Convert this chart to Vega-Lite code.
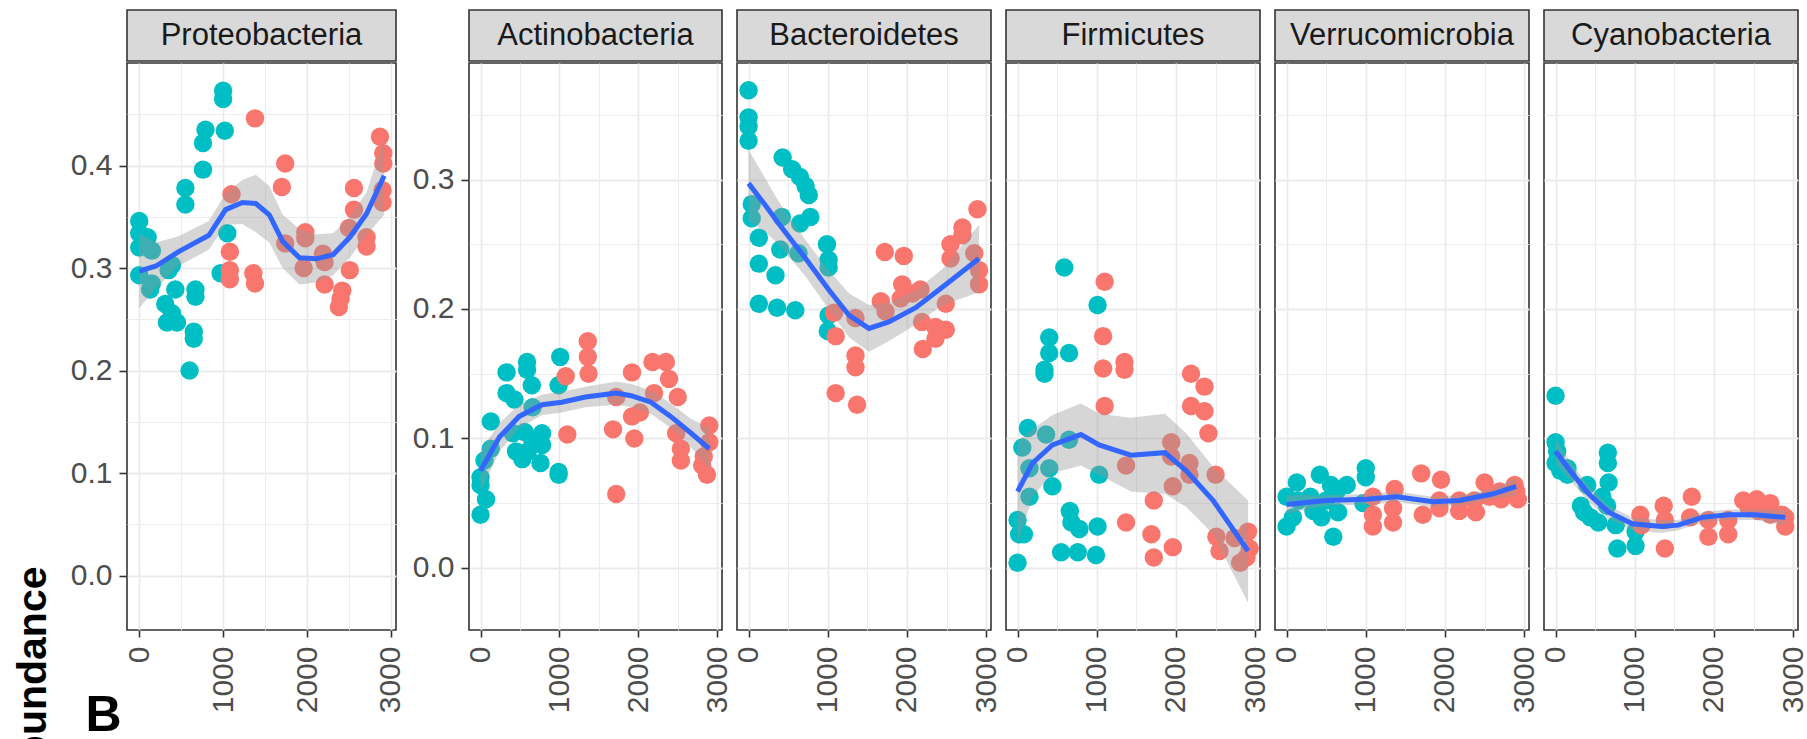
{
"$schema": "https://vega.github.io/schema/vega-lite/v6.json",
"padding": {"left": 11, "top": 9, "right": 0, "bottom": 0},
"config": {
  "font": "Liberation Sans",
  "view": {"stroke": "#333333", "strokeWidth": 1.6},
  "axis": {"domain": false, "grid": true, "gridColor": "#ebebeb", "tickColor": "#333333", "tickWidth": 1.6, "labelFont": "Liberation Sans", "labelFontSize": 30, "labelColor": "#4d4d4d", "labelPadding": 7, "titleFont": "Liberation Sans"},
  "axisX": {"tickSize": 7, "labelPadding": 9},
  "axisY": {"tickSize": 8}
},
"datasets": {
"pts": [
{"p":"Proteobacteria","x":0,"y":0.346,"g":"a"},{"p":"Proteobacteria","x":0,"y":0.334,"g":"a"},{"p":"Proteobacteria","x":0,"y":0.320,"g":"a"},{"p":"Proteobacteria","x":0,"y":0.293,"g":"a"},{"p":"Proteobacteria","x":100,"y":0.330,"g":"a"},{"p":"Proteobacteria","x":150,"y":0.317,"g":"a"},{"p":"Proteobacteria","x":130,"y":0.279,"g":"a"},{"p":"Proteobacteria","x":150,"y":0.285,"g":"a"},{"p":"Proteobacteria","x":390,"y":0.303,"g":"a"},{"p":"Proteobacteria","x":350,"y":0.298,"g":"a"},{"p":"Proteobacteria","x":430,"y":0.279,"g":"a"},{"p":"Proteobacteria","x":310,"y":0.265,"g":"a"},{"p":"Proteobacteria","x":390,"y":0.256,"g":"a"},{"p":"Proteobacteria","x":330,"y":0.247,"g":"a"},{"p":"Proteobacteria","x":450,"y":0.247,"g":"a"},{"p":"Proteobacteria","x":550,"y":0.378,"g":"a"},{"p":"Proteobacteria","x":550,"y":0.362,"g":"a"},{"p":"Proteobacteria","x":670,"y":0.279,"g":"a"},{"p":"Proteobacteria","x":670,"y":0.272,"g":"a"},{"p":"Proteobacteria","x":650,"y":0.238,"g":"a"},{"p":"Proteobacteria","x":650,"y":0.231,"g":"a"},{"p":"Proteobacteria","x":600,"y":0.200,"g":"a"},{"p":"Proteobacteria","x":760,"y":0.422,"g":"a"},{"p":"Proteobacteria","x":790,"y":0.435,"g":"a"},{"p":"Proteobacteria","x":760,"y":0.396,"g":"a"},{"p":"Proteobacteria","x":1000,"y":0.473,"g":"a"},{"p":"Proteobacteria","x":1000,"y":0.465,"g":"a"},{"p":"Proteobacteria","x":1020,"y":0.434,"g":"a"},{"p":"Proteobacteria","x":1050,"y":0.334,"g":"a"},{"p":"Proteobacteria","x":970,"y":0.295,"g":"a"},
{"p":"Proteobacteria","x":1380,"y":0.446,"g":"b"},{"p":"Proteobacteria","x":1100,"y":0.372,"g":"b"},{"p":"Proteobacteria","x":1080,"y":0.316,"g":"b"},{"p":"Proteobacteria","x":1080,"y":0.298,"g":"b"},{"p":"Proteobacteria","x":1080,"y":0.289,"g":"b"},{"p":"Proteobacteria","x":1360,"y":0.295,"g":"b"},{"p":"Proteobacteria","x":1380,"y":0.285,"g":"b"},{"p":"Proteobacteria","x":1740,"y":0.402,"g":"b"},{"p":"Proteobacteria","x":1700,"y":0.379,"g":"b"},{"p":"Proteobacteria","x":1740,"y":0.324,"g":"b"},{"p":"Proteobacteria","x":1980,"y":0.335,"g":"b"},{"p":"Proteobacteria","x":1980,"y":0.329,"g":"b"},{"p":"Proteobacteria","x":1960,"y":0.300,"g":"b"},{"p":"Proteobacteria","x":2190,"y":0.314,"g":"b"},{"p":"Proteobacteria","x":2210,"y":0.306,"g":"b"},{"p":"Proteobacteria","x":2210,"y":0.284,"g":"b"},{"p":"Proteobacteria","x":2420,"y":0.278,"g":"b"},{"p":"Proteobacteria","x":2400,"y":0.270,"g":"b"},{"p":"Proteobacteria","x":2380,"y":0.262,"g":"b"},{"p":"Proteobacteria","x":2510,"y":0.298,"g":"b"},{"p":"Proteobacteria","x":2560,"y":0.378,"g":"b"},{"p":"Proteobacteria","x":2560,"y":0.357,"g":"b"},{"p":"Proteobacteria","x":2500,"y":0.339,"g":"b"},{"p":"Proteobacteria","x":2710,"y":0.330,"g":"b"},{"p":"Proteobacteria","x":2710,"y":0.321,"g":"b"},{"p":"Proteobacteria","x":2870,"y":0.428,"g":"b"},{"p":"Proteobacteria","x":2910,"y":0.412,"g":"b"},{"p":"Proteobacteria","x":2910,"y":0.402,"g":"b"},{"p":"Proteobacteria","x":2900,"y":0.376,"g":"b"},{"p":"Proteobacteria","x":2900,"y":0.364,"g":"b"},
{"p":"Actinobacteria","x":0,"y":0.041,"g":"a"},{"p":"Actinobacteria","x":70,"y":0.053,"g":"a"},{"p":"Actinobacteria","x":0,"y":0.064,"g":"a"},{"p":"Actinobacteria","x":0,"y":0.070,"g":"a"},{"p":"Actinobacteria","x":50,"y":0.083,"g":"a"},{"p":"Actinobacteria","x":130,"y":0.092,"g":"a"},{"p":"Actinobacteria","x":130,"y":0.113,"g":"a"},{"p":"Actinobacteria","x":330,"y":0.151,"g":"a"},{"p":"Actinobacteria","x":330,"y":0.135,"g":"a"},{"p":"Actinobacteria","x":430,"y":0.130,"g":"a"},{"p":"Actinobacteria","x":410,"y":0.104,"g":"a"},{"p":"Actinobacteria","x":450,"y":0.090,"g":"a"},{"p":"Actinobacteria","x":530,"y":0.084,"g":"a"},{"p":"Actinobacteria","x":590,"y":0.159,"g":"a"},{"p":"Actinobacteria","x":590,"y":0.153,"g":"a"},{"p":"Actinobacteria","x":650,"y":0.141,"g":"a"},{"p":"Actinobacteria","x":660,"y":0.124,"g":"a"},{"p":"Actinobacteria","x":660,"y":0.097,"g":"a"},{"p":"Actinobacteria","x":780,"y":0.104,"g":"a"},{"p":"Actinobacteria","x":780,"y":0.095,"g":"a"},{"p":"Actinobacteria","x":760,"y":0.081,"g":"a"},{"p":"Actinobacteria","x":990,"y":0.074,"g":"a"},{"p":"Actinobacteria","x":990,"y":0.072,"g":"a"},{"p":"Actinobacteria","x":1010,"y":0.163,"g":"a"},{"p":"Actinobacteria","x":990,"y":0.141,"g":"a"},{"p":"Actinobacteria","x":600,"y":0.090,"g":"a"},{"p":"Actinobacteria","x":560,"y":0.105,"g":"a"},
{"p":"Actinobacteria","x":1080,"y":0.148,"g":"b"},{"p":"Actinobacteria","x":1100,"y":0.103,"g":"b"},{"p":"Actinobacteria","x":1360,"y":0.175,"g":"b"},{"p":"Actinobacteria","x":1360,"y":0.163,"g":"b"},{"p":"Actinobacteria","x":1370,"y":0.150,"g":"b"},{"p":"Actinobacteria","x":1720,"y":0.132,"g":"b"},{"p":"Actinobacteria","x":1680,"y":0.107,"g":"b"},{"p":"Actinobacteria","x":1720,"y":0.057,"g":"b"},{"p":"Actinobacteria","x":1920,"y":0.151,"g":"b"},{"p":"Actinobacteria","x":1920,"y":0.117,"g":"b"},{"p":"Actinobacteria","x":1950,"y":0.100,"g":"b"},{"p":"Actinobacteria","x":2180,"y":0.159,"g":"b"},{"p":"Actinobacteria","x":2200,"y":0.135,"g":"b"},{"p":"Actinobacteria","x":2350,"y":0.159,"g":"b"},{"p":"Actinobacteria","x":2390,"y":0.146,"g":"b"},{"p":"Actinobacteria","x":2500,"y":0.132,"g":"b"},{"p":"Actinobacteria","x":2480,"y":0.104,"g":"b"},{"p":"Actinobacteria","x":2540,"y":0.092,"g":"b"},{"p":"Actinobacteria","x":2540,"y":0.083,"g":"b"},{"p":"Actinobacteria","x":2900,"y":0.110,"g":"b"},{"p":"Actinobacteria","x":2900,"y":0.097,"g":"b"},{"p":"Actinobacteria","x":2830,"y":0.086,"g":"b"},{"p":"Actinobacteria","x":2870,"y":0.072,"g":"b"},{"p":"Actinobacteria","x":2810,"y":0.079,"g":"b"},{"p":"Actinobacteria","x":2020,"y":0.120,"g":"b"},
{"p":"Bacteroidetes","x":0,"y":0.369,"g":"a"},{"p":"Bacteroidetes","x":0,"y":0.348,"g":"a"},{"p":"Bacteroidetes","x":0,"y":0.341,"g":"a"},{"p":"Bacteroidetes","x":0,"y":0.330,"g":"a"},{"p":"Bacteroidetes","x":40,"y":0.281,"g":"a"},{"p":"Bacteroidetes","x":40,"y":0.270,"g":"a"},{"p":"Bacteroidetes","x":130,"y":0.255,"g":"a"},{"p":"Bacteroidetes","x":130,"y":0.235,"g":"a"},{"p":"Bacteroidetes","x":130,"y":0.204,"g":"a"},{"p":"Bacteroidetes","x":340,"y":0.226,"g":"a"},{"p":"Bacteroidetes","x":400,"y":0.246,"g":"a"},{"p":"Bacteroidetes","x":420,"y":0.271,"g":"a"},{"p":"Bacteroidetes","x":360,"y":0.201,"g":"a"},{"p":"Bacteroidetes","x":430,"y":0.317,"g":"a"},{"p":"Bacteroidetes","x":550,"y":0.308,"g":"a"},{"p":"Bacteroidetes","x":650,"y":0.302,"g":"a"},{"p":"Bacteroidetes","x":720,"y":0.295,"g":"a"},{"p":"Bacteroidetes","x":760,"y":0.288,"g":"a"},{"p":"Bacteroidetes","x":780,"y":0.271,"g":"a"},{"p":"Bacteroidetes","x":650,"y":0.266,"g":"a"},{"p":"Bacteroidetes","x":630,"y":0.243,"g":"a"},{"p":"Bacteroidetes","x":590,"y":0.199,"g":"a"},{"p":"Bacteroidetes","x":990,"y":0.250,"g":"a"},{"p":"Bacteroidetes","x":1010,"y":0.238,"g":"a"},{"p":"Bacteroidetes","x":1010,"y":0.232,"g":"a"},{"p":"Bacteroidetes","x":1010,"y":0.195,"g":"a"},{"p":"Bacteroidetes","x":1000,"y":0.183,"g":"a"},
{"p":"Bacteroidetes","x":1080,"y":0.197,"g":"b"},{"p":"Bacteroidetes","x":1100,"y":0.179,"g":"b"},{"p":"Bacteroidetes","x":1100,"y":0.135,"g":"b"},{"p":"Bacteroidetes","x":1350,"y":0.193,"g":"b"},{"p":"Bacteroidetes","x":1350,"y":0.164,"g":"b"},{"p":"Bacteroidetes","x":1350,"y":0.155,"g":"b"},{"p":"Bacteroidetes","x":1370,"y":0.126,"g":"b"},{"p":"Bacteroidetes","x":1670,"y":0.206,"g":"b"},{"p":"Bacteroidetes","x":1720,"y":0.244,"g":"b"},{"p":"Bacteroidetes","x":1960,"y":0.241,"g":"b"},{"p":"Bacteroidetes","x":1940,"y":0.219,"g":"b"},{"p":"Bacteroidetes","x":1920,"y":0.208,"g":"b"},{"p":"Bacteroidetes","x":1730,"y":0.198,"g":"b"},{"p":"Bacteroidetes","x":2070,"y":0.212,"g":"b"},{"p":"Bacteroidetes","x":2170,"y":0.215,"g":"b"},{"p":"Bacteroidetes","x":2190,"y":0.190,"g":"b"},{"p":"Bacteroidetes","x":2200,"y":0.169,"g":"b"},{"p":"Bacteroidetes","x":2360,"y":0.186,"g":"b"},{"p":"Bacteroidetes","x":2360,"y":0.177,"g":"b"},{"p":"Bacteroidetes","x":2490,"y":0.204,"g":"b"},{"p":"Bacteroidetes","x":2490,"y":0.184,"g":"b"},{"p":"Bacteroidetes","x":2550,"y":0.250,"g":"b"},{"p":"Bacteroidetes","x":2550,"y":0.239,"g":"b"},{"p":"Bacteroidetes","x":2700,"y":0.263,"g":"b"},{"p":"Bacteroidetes","x":2700,"y":0.257,"g":"b"},{"p":"Bacteroidetes","x":2890,"y":0.277,"g":"b"},{"p":"Bacteroidetes","x":2850,"y":0.243,"g":"b"},{"p":"Bacteroidetes","x":2910,"y":0.230,"g":"b"},{"p":"Bacteroidetes","x":2910,"y":0.219,"g":"b"},
{"p":"Firmicutes","x":0,"y":0.004,"g":"a"},{"p":"Firmicutes","x":0,"y":0.037,"g":"a"},{"p":"Firmicutes","x":20,"y":0.026,"g":"a"},{"p":"Firmicutes","x":80,"y":0.026,"g":"a"},{"p":"Firmicutes","x":60,"y":0.093,"g":"a"},{"p":"Firmicutes","x":130,"y":0.108,"g":"a"},{"p":"Firmicutes","x":150,"y":0.077,"g":"a"},{"p":"Firmicutes","x":150,"y":0.055,"g":"a"},{"p":"Firmicutes","x":360,"y":0.103,"g":"a"},{"p":"Firmicutes","x":400,"y":0.077,"g":"a"},{"p":"Firmicutes","x":440,"y":0.063,"g":"a"},{"p":"Firmicutes","x":400,"y":0.178,"g":"a"},{"p":"Firmicutes","x":400,"y":0.166,"g":"a"},{"p":"Firmicutes","x":340,"y":0.153,"g":"a"},{"p":"Firmicutes","x":340,"y":0.150,"g":"a"},{"p":"Firmicutes","x":590,"y":0.232,"g":"a"},{"p":"Firmicutes","x":650,"y":0.166,"g":"a"},{"p":"Firmicutes","x":650,"y":0.099,"g":"a"},{"p":"Firmicutes","x":550,"y":0.012,"g":"a"},{"p":"Firmicutes","x":660,"y":0.044,"g":"a"},{"p":"Firmicutes","x":680,"y":0.035,"g":"a"},{"p":"Firmicutes","x":760,"y":0.012,"g":"a"},{"p":"Firmicutes","x":780,"y":0.030,"g":"a"},{"p":"Firmicutes","x":1010,"y":0.203,"g":"a"},{"p":"Firmicutes","x":1030,"y":0.072,"g":"a"},{"p":"Firmicutes","x":1010,"y":0.032,"g":"a"},{"p":"Firmicutes","x":990,"y":0.010,"g":"a"},
{"p":"Firmicutes","x":1100,"y":0.221,"g":"b"},{"p":"Firmicutes","x":1080,"y":0.179,"g":"b"},{"p":"Firmicutes","x":1080,"y":0.154,"g":"b"},{"p":"Firmicutes","x":1100,"y":0.125,"g":"b"},{"p":"Firmicutes","x":1350,"y":0.159,"g":"b"},{"p":"Firmicutes","x":1350,"y":0.153,"g":"b"},{"p":"Firmicutes","x":1370,"y":0.079,"g":"b"},{"p":"Firmicutes","x":1370,"y":0.035,"g":"b"},{"p":"Firmicutes","x":1720,"y":0.052,"g":"b"},{"p":"Firmicutes","x":1690,"y":0.026,"g":"b"},{"p":"Firmicutes","x":1720,"y":0.008,"g":"b"},{"p":"Firmicutes","x":1960,"y":0.016,"g":"b"},{"p":"Firmicutes","x":1940,"y":0.097,"g":"b"},{"p":"Firmicutes","x":1940,"y":0.086,"g":"b"},{"p":"Firmicutes","x":1960,"y":0.063,"g":"b"},{"p":"Firmicutes","x":2190,"y":0.150,"g":"b"},{"p":"Firmicutes","x":2190,"y":0.125,"g":"b"},{"p":"Firmicutes","x":2170,"y":0.081,"g":"b"},{"p":"Firmicutes","x":2170,"y":0.072,"g":"b"},{"p":"Firmicutes","x":2360,"y":0.140,"g":"b"},{"p":"Firmicutes","x":2360,"y":0.121,"g":"b"},{"p":"Firmicutes","x":2410,"y":0.104,"g":"b"},{"p":"Firmicutes","x":2500,"y":0.072,"g":"b"},{"p":"Firmicutes","x":2510,"y":0.024,"g":"b"},{"p":"Firmicutes","x":2550,"y":0.013,"g":"b"},{"p":"Firmicutes","x":2740,"y":0.023,"g":"b"},{"p":"Firmicutes","x":2910,"y":0.028,"g":"b"},{"p":"Firmicutes","x":2890,"y":0.008,"g":"b"},{"p":"Firmicutes","x":2810,"y":0.004,"g":"b"},{"p":"Firmicutes","x":2930,"y":0.015,"g":"b"},
{"p":"Verrucomicrobia","x":0,"y":0.032,"g":"a"},{"p":"Verrucomicrobia","x":0,"y":0.055,"g":"a"},{"p":"Verrucomicrobia","x":80,"y":0.039,"g":"a"},{"p":"Verrucomicrobia","x":130,"y":0.066,"g":"a"},{"p":"Verrucomicrobia","x":150,"y":0.052,"g":"a"},{"p":"Verrucomicrobia","x":340,"y":0.044,"g":"a"},{"p":"Verrucomicrobia","x":420,"y":0.072,"g":"a"},{"p":"Verrucomicrobia","x":440,"y":0.039,"g":"a"},{"p":"Verrucomicrobia","x":500,"y":0.052,"g":"a"},{"p":"Verrucomicrobia","x":590,"y":0.024,"g":"a"},{"p":"Verrucomicrobia","x":630,"y":0.059,"g":"a"},{"p":"Verrucomicrobia","x":650,"y":0.043,"g":"a"},{"p":"Verrucomicrobia","x":760,"y":0.064,"g":"a"},{"p":"Verrucomicrobia","x":1000,"y":0.077,"g":"a"},{"p":"Verrucomicrobia","x":1000,"y":0.070,"g":"a"},{"p":"Verrucomicrobia","x":970,"y":0.050,"g":"a"},{"p":"Verrucomicrobia","x":300,"y":0.055,"g":"a"},{"p":"Verrucomicrobia","x":560,"y":0.064,"g":"a"},
{"p":"Verrucomicrobia","x":1090,"y":0.055,"g":"b"},{"p":"Verrucomicrobia","x":1090,"y":0.041,"g":"b"},{"p":"Verrucomicrobia","x":1090,"y":0.032,"g":"b"},{"p":"Verrucomicrobia","x":1365,"y":0.061,"g":"b"},{"p":"Verrucomicrobia","x":1345,"y":0.046,"g":"b"},{"p":"Verrucomicrobia","x":1345,"y":0.035,"g":"b"},{"p":"Verrucomicrobia","x":1700,"y":0.073,"g":"b"},{"p":"Verrucomicrobia","x":1720,"y":0.041,"g":"b"},{"p":"Verrucomicrobia","x":1950,"y":0.068,"g":"b"},{"p":"Verrucomicrobia","x":1930,"y":0.052,"g":"b"},{"p":"Verrucomicrobia","x":1930,"y":0.046,"g":"b"},{"p":"Verrucomicrobia","x":2180,"y":0.052,"g":"b"},{"p":"Verrucomicrobia","x":2180,"y":0.044,"g":"b"},{"p":"Verrucomicrobia","x":2370,"y":0.052,"g":"b"},{"p":"Verrucomicrobia","x":2390,"y":0.043,"g":"b"},{"p":"Verrucomicrobia","x":2500,"y":0.066,"g":"b"},{"p":"Verrucomicrobia","x":2560,"y":0.055,"g":"b"},{"p":"Verrucomicrobia","x":2690,"y":0.059,"g":"b"},{"p":"Verrucomicrobia","x":2710,"y":0.053,"g":"b"},{"p":"Verrucomicrobia","x":2880,"y":0.064,"g":"b"},{"p":"Verrucomicrobia","x":2900,"y":0.059,"g":"b"},{"p":"Verrucomicrobia","x":2920,"y":0.053,"g":"b"},
{"p":"Cyanobacteria","x":0,"y":0.133,"g":"a"},{"p":"Cyanobacteria","x":0,"y":0.097,"g":"a"},{"p":"Cyanobacteria","x":0,"y":0.081,"g":"a"},{"p":"Cyanobacteria","x":20,"y":0.090,"g":"a"},{"p":"Cyanobacteria","x":60,"y":0.075,"g":"a"},{"p":"Cyanobacteria","x":150,"y":0.072,"g":"a"},{"p":"Cyanobacteria","x":150,"y":0.077,"g":"a"},{"p":"Cyanobacteria","x":400,"y":0.064,"g":"a"},{"p":"Cyanobacteria","x":320,"y":0.048,"g":"a"},{"p":"Cyanobacteria","x":360,"y":0.043,"g":"a"},{"p":"Cyanobacteria","x":440,"y":0.039,"g":"a"},{"p":"Cyanobacteria","x":540,"y":0.035,"g":"a"},{"p":"Cyanobacteria","x":650,"y":0.048,"g":"a"},{"p":"Cyanobacteria","x":670,"y":0.066,"g":"a"},{"p":"Cyanobacteria","x":660,"y":0.081,"g":"a"},{"p":"Cyanobacteria","x":660,"y":0.089,"g":"a"},{"p":"Cyanobacteria","x":760,"y":0.033,"g":"a"},{"p":"Cyanobacteria","x":780,"y":0.015,"g":"a"},{"p":"Cyanobacteria","x":1010,"y":0.017,"g":"a"},{"p":"Cyanobacteria","x":1010,"y":0.028,"g":"a"},{"p":"Cyanobacteria","x":590,"y":0.055,"g":"a"},
{"p":"Cyanobacteria","x":1070,"y":0.041,"g":"b"},{"p":"Cyanobacteria","x":1085,"y":0.033,"g":"b"},{"p":"Cyanobacteria","x":1365,"y":0.048,"g":"b"},{"p":"Cyanobacteria","x":1380,"y":0.037,"g":"b"},{"p":"Cyanobacteria","x":1380,"y":0.015,"g":"b"},{"p":"Cyanobacteria","x":1720,"y":0.055,"g":"b"},{"p":"Cyanobacteria","x":1700,"y":0.039,"g":"b"},{"p":"Cyanobacteria","x":1930,"y":0.037,"g":"b"},{"p":"Cyanobacteria","x":1930,"y":0.024,"g":"b"},{"p":"Cyanobacteria","x":2180,"y":0.037,"g":"b"},{"p":"Cyanobacteria","x":2180,"y":0.026,"g":"b"},{"p":"Cyanobacteria","x":2370,"y":0.052,"g":"b"},{"p":"Cyanobacteria","x":2440,"y":0.046,"g":"b"},{"p":"Cyanobacteria","x":2540,"y":0.053,"g":"b"},{"p":"Cyanobacteria","x":2560,"y":0.044,"g":"b"},{"p":"Cyanobacteria","x":2710,"y":0.050,"g":"b"},{"p":"Cyanobacteria","x":2710,"y":0.041,"g":"b"},{"p":"Cyanobacteria","x":2900,"y":0.039,"g":"b"},{"p":"Cyanobacteria","x":2900,"y":0.032,"g":"b"},{"p":"Cyanobacteria","x":2860,"y":0.041,"g":"b"}
],
"fit": [
{"p":"Proteobacteria","x":0,"fit":0.297,"lo":0.261,"hi":0.334},{"p":"Proteobacteria","x":200,"fit":0.302,"lo":0.280,"hi":0.325},{"p":"Proteobacteria","x":470,"fit":0.316,"lo":0.302,"hi":0.331},{"p":"Proteobacteria","x":830,"fit":0.332,"lo":0.318,"hi":0.346},{"p":"Proteobacteria","x":1030,"fit":0.357,"lo":0.342,"hi":0.373},{"p":"Proteobacteria","x":1230,"fit":0.364,"lo":0.343,"hi":0.386},{"p":"Proteobacteria","x":1390,"fit":0.363,"lo":0.335,"hi":0.391},{"p":"Proteobacteria","x":1550,"fit":0.352,"lo":0.325,"hi":0.380},{"p":"Proteobacteria","x":1710,"fit":0.326,"lo":0.300,"hi":0.352},{"p":"Proteobacteria","x":1910,"fit":0.310,"lo":0.284,"hi":0.338},{"p":"Proteobacteria","x":2110,"fit":0.309,"lo":0.286,"hi":0.333},{"p":"Proteobacteria","x":2310,"fit":0.313,"lo":0.293,"hi":0.334},{"p":"Proteobacteria","x":2510,"fit":0.330,"lo":0.310,"hi":0.350},{"p":"Proteobacteria","x":2710,"fit":0.353,"lo":0.332,"hi":0.374},{"p":"Proteobacteria","x":2920,"fit":0.390,"lo":0.352,"hi":0.427},
{"p":"Actinobacteria","x":0,"fit":0.075,"lo":0.059,"hi":0.090},{"p":"Actinobacteria","x":240,"fit":0.101,"lo":0.090,"hi":0.112},{"p":"Actinobacteria","x":490,"fit":0.117,"lo":0.108,"hi":0.126},{"p":"Actinobacteria","x":780,"fit":0.126,"lo":0.118,"hi":0.134},{"p":"Actinobacteria","x":1030,"fit":0.128,"lo":0.120,"hi":0.136},{"p":"Actinobacteria","x":1330,"fit":0.132,"lo":0.124,"hi":0.140},{"p":"Actinobacteria","x":1720,"fit":0.135,"lo":0.126,"hi":0.144},{"p":"Actinobacteria","x":1910,"fit":0.133,"lo":0.124,"hi":0.142},{"p":"Actinobacteria","x":2160,"fit":0.128,"lo":0.119,"hi":0.137},{"p":"Actinobacteria","x":2410,"fit":0.117,"lo":0.108,"hi":0.127},{"p":"Actinobacteria","x":2670,"fit":0.104,"lo":0.093,"hi":0.115},{"p":"Actinobacteria","x":2900,"fit":0.092,"lo":0.076,"hi":0.108},
{"p":"Bacteroidetes","x":0,"fit":0.297,"lo":0.268,"hi":0.323},{"p":"Bacteroidetes","x":200,"fit":0.281,"lo":0.260,"hi":0.302},{"p":"Bacteroidetes","x":380,"fit":0.266,"lo":0.250,"hi":0.283},{"p":"Bacteroidetes","x":720,"fit":0.239,"lo":0.225,"hi":0.253},{"p":"Bacteroidetes","x":1010,"fit":0.215,"lo":0.200,"hi":0.230},{"p":"Bacteroidetes","x":1270,"fit":0.195,"lo":0.178,"hi":0.212},{"p":"Bacteroidetes","x":1520,"fit":0.185,"lo":0.167,"hi":0.203},{"p":"Bacteroidetes","x":1770,"fit":0.190,"lo":0.175,"hi":0.205},{"p":"Bacteroidetes","x":2110,"fit":0.201,"lo":0.188,"hi":0.214},{"p":"Bacteroidetes","x":2450,"fit":0.217,"lo":0.203,"hi":0.231},{"p":"Bacteroidetes","x":2910,"fit":0.239,"lo":0.213,"hi":0.265},
{"p":"Firmicutes","x":0,"fit":0.059,"lo":0.018,"hi":0.098},{"p":"Firmicutes","x":190,"fit":0.081,"lo":0.055,"hi":0.107},{"p":"Firmicutes","x":440,"fit":0.095,"lo":0.073,"hi":0.118},{"p":"Firmicutes","x":800,"fit":0.103,"lo":0.079,"hi":0.127},{"p":"Firmicutes","x":1030,"fit":0.095,"lo":0.072,"hi":0.119},{"p":"Firmicutes","x":1430,"fit":0.087,"lo":0.059,"hi":0.116},{"p":"Firmicutes","x":1860,"fit":0.089,"lo":0.057,"hi":0.119},{"p":"Firmicutes","x":2130,"fit":0.075,"lo":0.047,"hi":0.104},{"p":"Firmicutes","x":2470,"fit":0.052,"lo":0.026,"hi":0.078},{"p":"Firmicutes","x":2910,"fit":0.013,"lo":-0.027,"hi":0.052},
{"p":"Verrucomicrobia","x":0,"fit":0.049,"lo":0.042,"hi":0.056},{"p":"Verrucomicrobia","x":500,"fit":0.052,"lo":0.048,"hi":0.056},{"p":"Verrucomicrobia","x":1010,"fit":0.053,"lo":0.049,"hi":0.057},{"p":"Verrucomicrobia","x":1390,"fit":0.055,"lo":0.051,"hi":0.059},{"p":"Verrucomicrobia","x":1850,"fit":0.051,"lo":0.047,"hi":0.055},{"p":"Verrucomicrobia","x":2180,"fit":0.052,"lo":0.048,"hi":0.056},{"p":"Verrucomicrobia","x":2600,"fit":0.057,"lo":0.053,"hi":0.061},{"p":"Verrucomicrobia","x":2900,"fit":0.063,"lo":0.056,"hi":0.070},
{"p":"Cyanobacteria","x":0,"fit":0.090,"lo":0.080,"hi":0.100},{"p":"Cyanobacteria","x":210,"fit":0.073,"lo":0.066,"hi":0.080},{"p":"Cyanobacteria","x":420,"fit":0.057,"lo":0.051,"hi":0.063},{"p":"Cyanobacteria","x":670,"fit":0.043,"lo":0.038,"hi":0.048},{"p":"Cyanobacteria","x":970,"fit":0.034,"lo":0.029,"hi":0.039},{"p":"Cyanobacteria","x":1340,"fit":0.032,"lo":0.027,"hi":0.037},{"p":"Cyanobacteria","x":1550,"fit":0.033,"lo":0.029,"hi":0.037},{"p":"Cyanobacteria","x":1850,"fit":0.039,"lo":0.035,"hi":0.043},{"p":"Cyanobacteria","x":2180,"fit":0.041,"lo":0.037,"hi":0.045},{"p":"Cyanobacteria","x":2520,"fit":0.041,"lo":0.037,"hi":0.045},{"p":"Cyanobacteria","x":2900,"fit":0.039,"lo":0.033,"hi":0.045}
]
},
"spacing": 4,
"hconcat": [
{"spacing": 0, "vconcat": [
  {"width": 269, "height": 51, "view": {"fill": "#d9d9d9", "stroke": "#333333", "strokeWidth": 1.6}, "data": {"values": [{"p": "Proteobacteria"}]}, "mark": {"type": "text", "fontSize": 31, "color": "#1a1a1a", "baseline": "middle"}, "encoding": {"text": {"field": "p"}}},
  {"width": 269, "height": 567, "layer": [
    {"data": {"name": "pts"}, "transform": [{"filter": "datum.p === 'Proteobacteria'"}], "mark": {"type": "circle", "size": 340, "opacity": 1},
     "encoding": {
       "x": {"field": "x", "type": "quantitative", "scale": {"domain": [-146, 3061], "nice": false, "zero": false},
             "axis": {"values": [0,500,1000,1500,2000,2500,3000], "format": "d", "labelAngle": 270, "labelExpr": "datum.value % 1000 === 0 ? datum.label : ''", "tickOpacity": {"condition": {"test": "datum.value % 1000 !== 0", "value": 0}, "value": 1}, "gridWidth": {"condition": {"test": "datum.value % 1000 !== 0", "value": 0.9}, "value": 1.8},
                      "title": "B", "titleFontSize": 50, "titleFontWeight": "bold", "titleColor": "#000000", "titleAngle": 0, "titleAlign": "left", "titleBaseline": "bottom", "titleX": -42, "titleY": 110}},
       "y": {"field": "y", "type": "quantitative", "scale": {"domain": [-0.053, 0.5], "nice": false, "zero": false},
             "axis": {"values": [0,0.05,0.1,0.15,0.2,0.25,0.3,0.35,0.4,0.45], "format": ".1f", "labelExpr": "round(datum.value*100) % 10 === 0 ? datum.label : ''", "tickOpacity": {"condition": {"test": "round(datum.value*100) % 10 !== 0", "value": 0}, "value": 1}, "gridWidth": {"condition": {"test": "round(datum.value*100) % 10 !== 0", "value": 0.9}, "value": 1.8},
                      "title": "Abundance", "titleFontSize": 41, "titleFontWeight": "bold", "titleColor": "#000000", "titleAngle": 270, "titleAlign": "right", "titleBaseline": "alphabetic", "titleX": -81.8, "titleY": 503}},
       "color": {"field": "g", "type": "nominal", "scale": {"domain": ["a","b"], "range": ["#00BFC4","#F8766D"]}, "legend": null}
     }},
    {"data": {"name": "fit"}, "transform": [{"filter": "datum.p === 'Proteobacteria'"}], "mark": {"type": "area", "color": "#999999", "opacity": 0.4},
     "encoding": {"x": {"field": "x", "type": "quantitative"}, "y": {"field": "lo", "type": "quantitative"}, "y2": {"field": "hi"}}},
    {"data": {"name": "fit"}, "transform": [{"filter": "datum.p === 'Proteobacteria'"}], "mark": {"type": "line", "color": "#3366FF", "strokeWidth": 5},
     "encoding": {"x": {"field": "x", "type": "quantitative"}, "y": {"field": "fit", "type": "quantitative"}}}
  ]}
]},
{"spacing": -1, "hconcat": [
 {"spacing": 0, "vconcat": [
  {"width": 253, "height": 51, "view": {"fill": "#d9d9d9", "stroke": "#333333", "strokeWidth": 1.6}, "data": {"values": [{"p": "Actinobacteria"}]}, "mark": {"type": "text", "fontSize": 31, "color": "#1a1a1a", "baseline": "middle"}, "encoding": {"text": {"field": "p"}}},
  {"width": 253, "height": 567, "layer": [
    {"data": {"name": "pts"}, "transform": [{"filter": "datum.p === 'Actinobacteria'"}], "mark": {"type": "circle", "size": 340, "opacity": 1},
     "encoding": {
       "x": {"field": "x", "type": "quantitative", "scale": {"domain": [-146, 3061], "nice": false, "zero": false},
             "axis": {"values": [0,500,1000,1500,2000,2500,3000], "format": "d", "labelAngle": 270, "labelExpr": "datum.value % 1000 === 0 ? datum.label : ''", "tickOpacity": {"condition": {"test": "datum.value % 1000 !== 0", "value": 0}, "value": 1}, "gridWidth": {"condition": {"test": "datum.value % 1000 !== 0", "value": 0.9}, "value": 1.8}, "title": ""}},
       "y": {"field": "y", "type": "quantitative", "scale": {"domain": [-0.048, 0.39], "nice": false, "zero": false},
             "axis": {"values": [0,0.05,0.1,0.15,0.2,0.25,0.3,0.35], "format": ".1f", "labelExpr": "round(datum.value*100) % 10 === 0 ? datum.label : ''", "tickOpacity": {"condition": {"test": "round(datum.value*100) % 10 !== 0", "value": 0}, "value": 1}, "gridWidth": {"condition": {"test": "round(datum.value*100) % 10 !== 0", "value": 0.9}, "value": 1.8}, "title": ""}},
       "color": {"field": "g", "type": "nominal", "scale": {"domain": ["a","b"], "range": ["#00BFC4","#F8766D"]}, "legend": null}
     }},
    {"data": {"name": "fit"}, "transform": [{"filter": "datum.p === 'Actinobacteria'"}], "mark": {"type": "area", "color": "#999999", "opacity": 0.4},
     "encoding": {"x": {"field": "x", "type": "quantitative"}, "y": {"field": "lo", "type": "quantitative"}, "y2": {"field": "hi"}}},
    {"data": {"name": "fit"}, "transform": [{"filter": "datum.p === 'Actinobacteria'"}], "mark": {"type": "line", "color": "#3366FF", "strokeWidth": 5},
     "encoding": {"x": {"field": "x", "type": "quantitative"}, "y": {"field": "fit", "type": "quantitative"}}}
  ]}
 ]},
 {"spacing": 0, "vconcat": [
  {"width": 254, "height": 51, "view": {"fill": "#d9d9d9", "stroke": "#333333", "strokeWidth": 1.6}, "data": {"values": [{"p": "Bacteroidetes"}]}, "mark": {"type": "text", "fontSize": 31, "color": "#1a1a1a", "baseline": "middle"}, "encoding": {"text": {"field": "p"}}},
  {"width": 254, "height": 567, "layer": [
    {"data": {"name": "pts"}, "transform": [{"filter": "datum.p === 'Bacteroidetes'"}], "mark": {"type": "circle", "size": 340, "opacity": 1},
     "encoding": {
       "x": {"field": "x", "type": "quantitative", "scale": {"domain": [-146, 3061], "nice": false, "zero": false},
             "axis": {"values": [0,500,1000,1500,2000,2500,3000], "format": "d", "labelAngle": 270, "labelExpr": "datum.value % 1000 === 0 ? datum.label : ''", "tickOpacity": {"condition": {"test": "datum.value % 1000 !== 0", "value": 0}, "value": 1}, "gridWidth": {"condition": {"test": "datum.value % 1000 !== 0", "value": 0.9}, "value": 1.8}, "title": ""}},
       "y": {"field": "y", "type": "quantitative", "scale": {"domain": [-0.048, 0.39], "nice": false, "zero": false},
             "axis": {"values": [0,0.05,0.1,0.15,0.2,0.25,0.3,0.35], "labels": false, "ticks": false, "gridWidth": {"condition": {"test": "round(datum.value*100) % 10 !== 0", "value": 0.9}, "value": 1.8}, "title": ""}},
       "color": {"field": "g", "type": "nominal", "scale": {"domain": ["a","b"], "range": ["#00BFC4","#F8766D"]}, "legend": null}
     }},
    {"data": {"name": "fit"}, "transform": [{"filter": "datum.p === 'Bacteroidetes'"}], "mark": {"type": "area", "color": "#999999", "opacity": 0.4},
     "encoding": {"x": {"field": "x", "type": "quantitative"}, "y": {"field": "lo", "type": "quantitative"}, "y2": {"field": "hi"}}},
    {"data": {"name": "fit"}, "transform": [{"filter": "datum.p === 'Bacteroidetes'"}], "mark": {"type": "line", "color": "#3366FF", "strokeWidth": 5},
     "encoding": {"x": {"field": "x", "type": "quantitative"}, "y": {"field": "fit", "type": "quantitative"}}}
  ]}
 ]},
 {"spacing": 0, "vconcat": [
  {"width": 254, "height": 51, "view": {"fill": "#d9d9d9", "stroke": "#333333", "strokeWidth": 1.6}, "data": {"values": [{"p": "Firmicutes"}]}, "mark": {"type": "text", "fontSize": 31, "color": "#1a1a1a", "baseline": "middle"}, "encoding": {"text": {"field": "p"}}},
  {"width": 254, "height": 567, "layer": [
    {"data": {"name": "pts"}, "transform": [{"filter": "datum.p === 'Firmicutes'"}], "mark": {"type": "circle", "size": 340, "opacity": 1},
     "encoding": {
       "x": {"field": "x", "type": "quantitative", "scale": {"domain": [-146, 3061], "nice": false, "zero": false},
             "axis": {"values": [0,500,1000,1500,2000,2500,3000], "format": "d", "labelAngle": 270, "labelExpr": "datum.value % 1000 === 0 ? datum.label : ''", "tickOpacity": {"condition": {"test": "datum.value % 1000 !== 0", "value": 0}, "value": 1}, "gridWidth": {"condition": {"test": "datum.value % 1000 !== 0", "value": 0.9}, "value": 1.8}, "title": ""}},
       "y": {"field": "y", "type": "quantitative", "scale": {"domain": [-0.048, 0.39], "nice": false, "zero": false},
             "axis": {"values": [0,0.05,0.1,0.15,0.2,0.25,0.3,0.35], "labels": false, "ticks": false, "gridWidth": {"condition": {"test": "round(datum.value*100) % 10 !== 0", "value": 0.9}, "value": 1.8}, "title": ""}},
       "color": {"field": "g", "type": "nominal", "scale": {"domain": ["a","b"], "range": ["#00BFC4","#F8766D"]}, "legend": null}
     }},
    {"data": {"name": "fit"}, "transform": [{"filter": "datum.p === 'Firmicutes'"}], "mark": {"type": "area", "color": "#999999", "opacity": 0.4},
     "encoding": {"x": {"field": "x", "type": "quantitative"}, "y": {"field": "lo", "type": "quantitative"}, "y2": {"field": "hi"}}},
    {"data": {"name": "fit"}, "transform": [{"filter": "datum.p === 'Firmicutes'"}], "mark": {"type": "line", "color": "#3366FF", "strokeWidth": 5},
     "encoding": {"x": {"field": "x", "type": "quantitative"}, "y": {"field": "fit", "type": "quantitative"}}}
  ]}
 ]},
 {"spacing": 0, "vconcat": [
  {"width": 254, "height": 51, "view": {"fill": "#d9d9d9", "stroke": "#333333", "strokeWidth": 1.6}, "data": {"values": [{"p": "Verrucomicrobia"}]}, "mark": {"type": "text", "fontSize": 31, "color": "#1a1a1a", "baseline": "middle"}, "encoding": {"text": {"field": "p"}}},
  {"width": 254, "height": 567, "layer": [
    {"data": {"name": "pts"}, "transform": [{"filter": "datum.p === 'Verrucomicrobia'"}], "mark": {"type": "circle", "size": 340, "opacity": 1},
     "encoding": {
       "x": {"field": "x", "type": "quantitative", "scale": {"domain": [-146, 3061], "nice": false, "zero": false},
             "axis": {"values": [0,500,1000,1500,2000,2500,3000], "format": "d", "labelAngle": 270, "labelExpr": "datum.value % 1000 === 0 ? datum.label : ''", "tickOpacity": {"condition": {"test": "datum.value % 1000 !== 0", "value": 0}, "value": 1}, "gridWidth": {"condition": {"test": "datum.value % 1000 !== 0", "value": 0.9}, "value": 1.8}, "title": ""}},
       "y": {"field": "y", "type": "quantitative", "scale": {"domain": [-0.048, 0.39], "nice": false, "zero": false},
             "axis": {"values": [0,0.05,0.1,0.15,0.2,0.25,0.3,0.35], "labels": false, "ticks": false, "gridWidth": {"condition": {"test": "round(datum.value*100) % 10 !== 0", "value": 0.9}, "value": 1.8}, "title": ""}},
       "color": {"field": "g", "type": "nominal", "scale": {"domain": ["a","b"], "range": ["#00BFC4","#F8766D"]}, "legend": null}
     }},
    {"data": {"name": "fit"}, "transform": [{"filter": "datum.p === 'Verrucomicrobia'"}], "mark": {"type": "area", "color": "#999999", "opacity": 0.4},
     "encoding": {"x": {"field": "x", "type": "quantitative"}, "y": {"field": "lo", "type": "quantitative"}, "y2": {"field": "hi"}}},
    {"data": {"name": "fit"}, "transform": [{"filter": "datum.p === 'Verrucomicrobia'"}], "mark": {"type": "line", "color": "#3366FF", "strokeWidth": 5},
     "encoding": {"x": {"field": "x", "type": "quantitative"}, "y": {"field": "fit", "type": "quantitative"}}}
  ]}
 ]},
 {"spacing": 0, "vconcat": [
  {"width": 254, "height": 51, "view": {"fill": "#d9d9d9", "stroke": "#333333", "strokeWidth": 1.6}, "data": {"values": [{"p": "Cyanobacteria"}]}, "mark": {"type": "text", "fontSize": 31, "color": "#1a1a1a", "baseline": "middle"}, "encoding": {"text": {"field": "p"}}},
  {"width": 254, "height": 567, "layer": [
    {"data": {"name": "pts"}, "transform": [{"filter": "datum.p === 'Cyanobacteria'"}], "mark": {"type": "circle", "size": 340, "opacity": 1},
     "encoding": {
       "x": {"field": "x", "type": "quantitative", "scale": {"domain": [-146, 3061], "nice": false, "zero": false},
             "axis": {"values": [0,500,1000,1500,2000,2500,3000], "format": "d", "labelAngle": 270, "labelExpr": "datum.value % 1000 === 0 ? datum.label : ''", "tickOpacity": {"condition": {"test": "datum.value % 1000 !== 0", "value": 0}, "value": 1}, "gridWidth": {"condition": {"test": "datum.value % 1000 !== 0", "value": 0.9}, "value": 1.8}, "title": ""}},
       "y": {"field": "y", "type": "quantitative", "scale": {"domain": [-0.048, 0.39], "nice": false, "zero": false},
             "axis": {"values": [0,0.05,0.1,0.15,0.2,0.25,0.3,0.35], "labels": false, "ticks": false, "gridWidth": {"condition": {"test": "round(datum.value*100) % 10 !== 0", "value": 0.9}, "value": 1.8}, "title": ""}},
       "color": {"field": "g", "type": "nominal", "scale": {"domain": ["a","b"], "range": ["#00BFC4","#F8766D"]}, "legend": null}
     }},
    {"data": {"name": "fit"}, "transform": [{"filter": "datum.p === 'Cyanobacteria'"}], "mark": {"type": "area", "color": "#999999", "opacity": 0.4},
     "encoding": {"x": {"field": "x", "type": "quantitative"}, "y": {"field": "lo", "type": "quantitative"}, "y2": {"field": "hi"}}},
    {"data": {"name": "fit"}, "transform": [{"filter": "datum.p === 'Cyanobacteria'"}], "mark": {"type": "line", "color": "#3366FF", "strokeWidth": 5},
     "encoding": {"x": {"field": "x", "type": "quantitative"}, "y": {"field": "fit", "type": "quantitative"}}}
  ]}
 ]}
]}
]
}
